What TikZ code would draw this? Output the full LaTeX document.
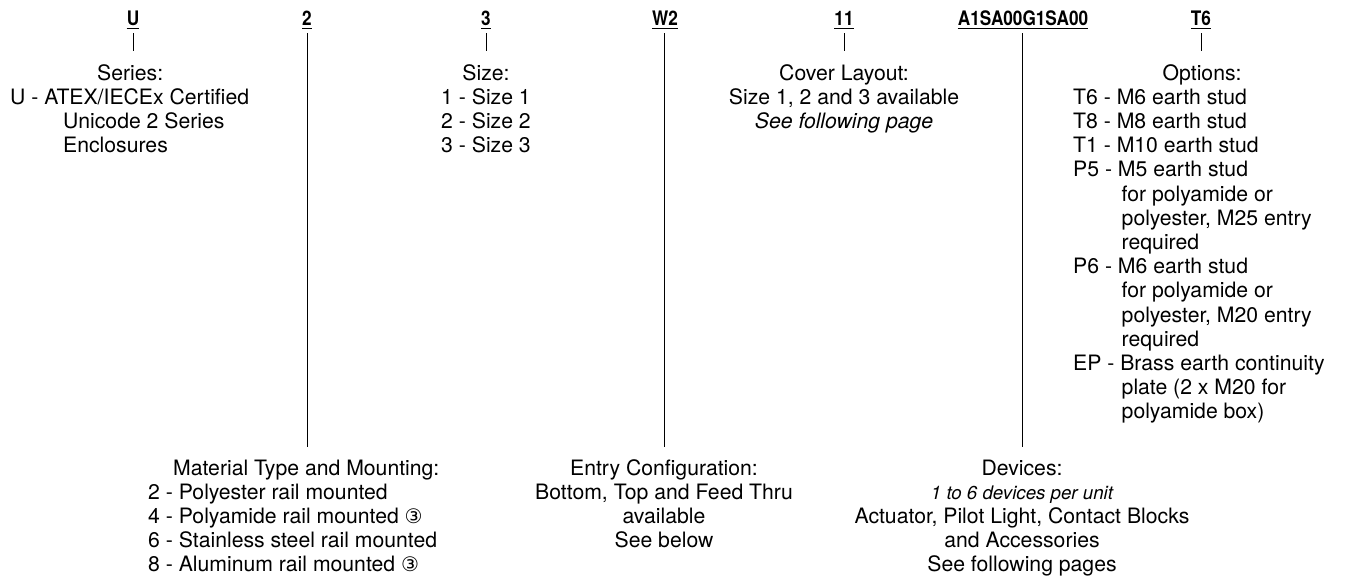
\documentclass[tikz,border=0pt]{standalone}
\usepackage{fontspec}
\setmainfont{TeX Gyre Heros}
\newfontfamily\hdrfont{TeX Gyre Heros}[FakeStretch=0.86]
\newfontfamily\symfont{DejaVu Sans}
\newcommand{\circthree}{{\symfont\fontsize{20}{20}\selectfont ③}}
\begin{document}
\begin{tikzpicture}[x=1pt,y=-1pt,
  hdr/.style={inner sep=0pt, anchor=base, font=\hdrfont\bfseries\fontsize{20}{24}\selectfont},
  txt/.style={inner sep=0pt, anchor=base, font=\fontsize{21.2}{24.2}\selectfont},
  conn/.style={line width=1pt, black},
  uline/.style={line width=1.2pt, black}]
\useasboundingbox (0,0) rectangle (1346,576);

% headers
\node[hdr] (hU) at (133,25) {U};
\node[hdr] (h2) at (307,25) {2};
\node[hdr] (h3) at (486,25) {3};
\node[hdr] (hW) at (665,25) {W2};
\node[hdr] (h11) at (844,25) {11};
\node[hdr] (hA) at (1023,25) {A1SA00G1SA00};
\node[hdr] (hT) at (1201,25) {T6};
\foreach \n in {hU,h2,h3,hW,h11,hA,hT}{
  \draw[uline] ([yshift=-3pt]\n.south west) -- ([yshift=-3pt]\n.south east);
}

% connector end points
\coordinate (tU) at (133,51);
\coordinate (t3) at (486,51);
\coordinate (t11) at (844,51);
\coordinate (tT) at (1201,51);
\coordinate (e2) at (307,447);
\coordinate (eW) at (664,447);
\coordinate (eA) at (1022,447);

\draw[conn] ([yshift=-8pt]hU.south) -- (tU);
\draw[conn] ([yshift=-8pt]h3.south) -- (t3);
\draw[conn] ([yshift=-8pt]h11.south) -- (t11);
\draw[conn] ([yshift=-8pt]hT.south) -- (tT);
\draw[conn] ([yshift=-8pt]h2.south) -- (e2);
\draw[conn] ([yshift=-8pt]hW.south -| eW) -- (eW);
\draw[conn] ([yshift=-8pt]hA.south -| eA) -- (eA);

% top blocks (anchored at the baseline of their last line; first baseline y=80)
\node[txt, anchor=base west, align=left] (ser) at (10,152.6)
  {\hspace*{87pt}Series:\\U - ATEX/IECEx Certified\\\hspace*{53pt}Unicode 2 Series\\\hspace*{53pt}Enclosures};
\node[txt, align=center] (siz) at (486,152.6)
  {Size:\\1 - Size 1\\2 - Size 2\\3 - Size 3};
\node[txt, align=center] (cov) at (844,128.4)
  {Cover Layout:\\Size 1, 2 and 3 available\\\textit{See following page}};
\node[txt, anchor=base west, align=left] (opt) at (1073,418.8)
  {\hspace*{89.5pt}Options:\\
   T6 - M6 earth stud\\
   T8 - M8 earth stud\\
   T1 - M10 earth stud\\
   P5 - M5 earth stud\\
   \hspace*{48.5pt}for polyamide or\\
   \hspace*{48.5pt}polyester, M25 entry\\
   \hspace*{48.5pt}required\\
   P6 - M6 earth stud\\
   \hspace*{48.5pt}for polyamide or\\
   \hspace*{48.5pt}polyester, M20 entry\\
   \hspace*{48.5pt}required\\
   EP - Brass earth continuity\\
   \hspace*{48.5pt}plate (2 x M20 for\\
   \hspace*{48.5pt}polyamide box)};

% bottom blocks (first baseline y=475)
\node[txt, anchor=base west, align=left] (mat) at (148,571.8)
  {\hspace*{25pt}Material Type and Mounting:\\
   2 - Polyester rail mounted\\
   4 - Polyamide rail mounted \circthree\\
   6 - Stainless steel rail mounted\\
   8 - Aluminum rail mounted \circthree};
\node[txt, align=center] (ent) at (664,547.6)
  {Entry Configuration:\\Bottom, Top and Feed Thru\\available\\See below};
\node[txt, align=center] (dev) at (1022,571.8)
  {Devices:\\{\itshape\fontsize{18.7}{24.2}\selectfont 1 to 6 devices per unit}\\Actuator, Pilot Light, Contact Blocks\\and Accessories\\See following pages};
\end{tikzpicture}
\end{document}
